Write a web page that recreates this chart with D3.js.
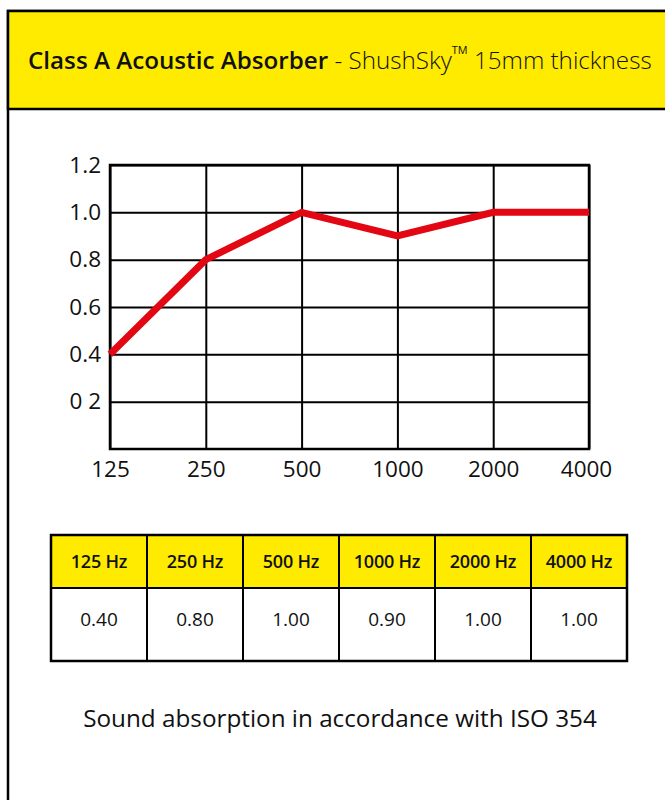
<!DOCTYPE html>
<html>
<head>
<meta charset="utf-8">
<script src="https://cdn.jsdelivr.net/npm/d3@7"></script>
<style>
  body { margin: 0; background: #fff; }
  svg { display: block; }
</style>
</head>
<body>
<svg id="chart" width="665" height="800"></svg>
<script>
// data
const freqs = ["125", "250", "500", "1000", "2000", "4000"];
const absorption = [0.40, 0.80, 1.00, 0.90, 1.00, 1.00];
const yTicks = [0.2, 0.4, 0.6, 0.8, 1.0, 1.2];
const yTickLabels = ["0 2", "0.4", "0.6", "0.8", "1.0", "1.2"];
const tableHeads = ["125 Hz", "250 Hz", "500 Hz", "1000 Hz", "2000 Hz", "4000 Hz"];
const tableValues = ["0.40", "0.80", "1.00", "0.90", "1.00", "1.00"];

const yellow = "#ffeb00", red = "#e30613";
const font = "Open Sans";
const svg = d3.select("#chart");

// shrink/grow a text's font so it spans the given width
function fit(sel, width) {
  const w = sel.node().getComputedTextLength();
  const s = +sel.attr("font-size");
  sel.attr("font-size", s * width / w);
}

// outer box + yellow header
svg.append("rect").attr("x", 8).attr("y", 11).attr("width", 700).attr("height", 820)
  .attr("fill", "#fff").attr("stroke", "#000").attr("stroke-width", 2.5);
svg.append("rect").attr("x", 8).attr("y", 11).attr("width", 700).attr("height", 98)
  .attr("fill", yellow).attr("stroke", "#000").attr("stroke-width", 2.5);

const title = svg.append("text").attr("x", 28).attr("y", 69)
  .attr("font-family", font).attr("font-size", 21).attr("fill", "#111");
title.append("tspan").attr("font-weight", 600).text("Class A Acoustic Absorber");
title.append("tspan").attr("font-weight", 300).text(" - ShushSky");
title.append("tspan").attr("font-weight", 400).attr("font-size", "0.45em").attr("dy", "-1.35em").text("TM");
title.append("tspan").attr("font-weight", 300).attr("dy", "0.61em").text(" 15mm thickness");
fit(title, 624);

// chart
const plot = { left: 110, right: 589, top: 165, bottom: 449 };
const x = d3.scalePoint().domain(freqs).range([plot.left, plot.right]);
const y = d3.scaleLinear().domain([0, 1.2]).range([plot.bottom, plot.top]);

const g = svg.append("g");

// horizontal grid with y labels
const yAxis = g.append("g").attr("transform", `translate(${plot.left},0)`)
  .call(d3.axisLeft(y).tickValues(yTicks)
    .tickSize(-(plot.right - plot.left)).tickPadding(10)
    .tickFormat((d, i) => yTickLabels[i]));
yAxis.select(".domain").remove();
yAxis.selectAll("line").attr("stroke", "#000").attr("stroke-width", 2);
yAxis.selectAll("text").attr("font-family", font).attr("font-size", 22.5).attr("fill", "#111")
  .attr("x", -9);

// vertical grid with x labels
const xAxis = g.append("g").attr("transform", `translate(0,${plot.bottom})`)
  .call(d3.axisBottom(x).tickSize(-(plot.bottom - plot.top)).tickPadding(10));
xAxis.select(".domain").remove();
xAxis.selectAll("line").attr("stroke", "#000").attr("stroke-width", 2);
xAxis.selectAll("text").attr("font-family", font).attr("font-size", 22.5).attr("fill", "#111")
  .attr("y", 12);
xAxis.selectAll(".tick:last-of-type text").attr("x", -3);

// frame
g.append("rect").attr("x", plot.left).attr("y", plot.top)
  .attr("width", plot.right - plot.left).attr("height", plot.bottom - plot.top)
  .attr("fill", "none").attr("stroke", "#000").attr("stroke-width", 2.5);

// data line
const line = d3.line().x((d, i) => x(freqs[i])).y(d => y(d));
g.append("path").attr("d", line(absorption))
  .attr("fill", "none").attr("stroke", red).attr("stroke-width", 7).attr("stroke-linejoin", "miter");

// table
const tbl = { left: 51, right: 627, top: 535, mid: 588, bottom: 661 };
const col = d3.scaleBand().domain(tableHeads).range([tbl.left, tbl.right]);
const t = svg.append("g");
t.append("rect").attr("x", tbl.left).attr("y", tbl.top).attr("width", tbl.right - tbl.left)
  .attr("height", tbl.mid - tbl.top).attr("fill", yellow);
t.selectAll(".head").data(tableHeads).join("text")
  .attr("x", d => col(d) + col.bandwidth() / 2).attr("y", 568)
  .attr("text-anchor", "middle").attr("font-family", font).attr("font-weight", 600)
  .attr("font-size", 18).attr("letter-spacing", -0.2).attr("fill", "#111").text(d => d);
t.selectAll(".val").data(tableValues).join("text")
  .attr("x", (d, i) => col(tableHeads[i]) + col.bandwidth() / 2).attr("y", 626)
  .attr("text-anchor", "middle").attr("font-family", font).attr("font-weight", 400)
  .attr("font-size", 19).attr("fill", "#111").text(d => d);
t.selectAll(".vline").data(tableHeads.slice(1)).join("line")
  .attr("x1", d => col(d)).attr("x2", d => col(d)).attr("y1", tbl.top).attr("y2", tbl.bottom)
  .attr("stroke", "#000").attr("stroke-width", 2);
t.append("line").attr("x1", tbl.left).attr("x2", tbl.right).attr("y1", tbl.mid).attr("y2", tbl.mid)
  .attr("stroke", "#000").attr("stroke-width", 2);
t.append("rect").attr("x", tbl.left).attr("y", tbl.top).attr("width", tbl.right - tbl.left)
  .attr("height", tbl.bottom - tbl.top).attr("fill", "none").attr("stroke", "#000").attr("stroke-width", 2.5);

// caption
const caption = svg.append("text").attr("x", 340).attr("y", 727).attr("text-anchor", "middle")
  .attr("font-family", font).attr("font-weight", 500).attr("font-size", 21).attr("fill", "#111")
  .text("Sound absorption in accordance with ISO 354");
fit(caption, 514);
</script>
</body>
</html>
